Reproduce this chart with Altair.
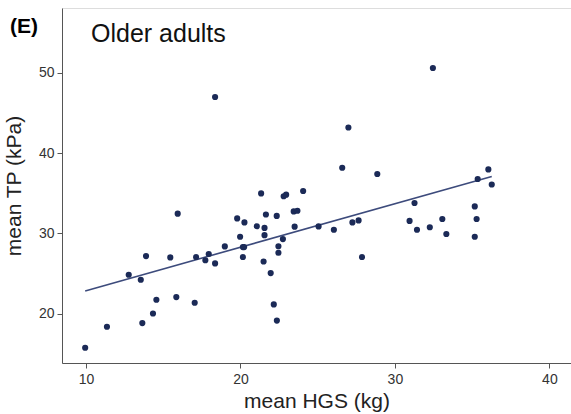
import altair as alt
import pandas as pd

# mean hand-grip strength (kg) and mean tongue pressure (kPa), older adults
hgs = [9.95, 11.36, 12.77, 13.55, 13.89, 13.65, 14.34, 14.56, 15.46, 15.94,
       15.85, 17.04, 17.13, 17.73, 17.95, 18.36, 18.99, 19.79, 19.98, 20.16,
       20.24, 20.26, 20.16, 21.06, 21.56, 21.65, 21.56, 21.50, 21.96, 22.35,
       22.16, 22.36, 22.46, 22.46, 22.75, 21.34, 22.80, 22.96, 24.06, 23.45,
       23.69, 23.51, 25.06, 26.05, 27.25, 27.65, 27.87, 26.59, 28.86, 26.99,
       18.36, 32.46, 30.95, 31.27, 31.43, 32.26, 33.07, 33.33, 35.17, 35.29,
       35.17, 35.36, 36.05, 36.27]
tp = [15.75, 18.37, 24.85, 24.23, 27.18, 18.83, 20.02, 21.73, 27.01, 32.46,
      22.07, 21.36, 27.06, 26.66, 27.44, 26.26, 28.38, 31.87, 29.59, 28.30,
      28.30, 31.37, 27.06, 30.90, 30.69, 32.36, 29.78, 26.50, 25.06, 32.18,
      21.15, 19.14, 28.40, 27.59, 29.30, 34.99, 34.64, 34.83, 35.29, 32.74,
      32.83, 30.84, 30.87, 30.46, 31.37, 31.62, 27.06, 38.19, 37.41, 43.20,
      47.01, 50.62, 31.56, 33.79, 30.46, 30.77, 31.80, 29.93, 33.37, 31.80,
      29.59, 36.78, 37.98, 36.10]

x_ticks = [10, 20, 30, 40]
y_ticks = [20, 30, 40, 50]

df = pd.DataFrame({"hgs": hgs, "tp": tp})

FONT = "Liberation Sans"
NAVY = "#1b2a57"

x_enc = alt.X("hgs:Q", title="mean HGS (kg)",
              scale=alt.Scale(domain=[8.45, 41.4], nice=False, zero=False),
              axis=alt.Axis(values=x_ticks, grid=False, tickSize=5,
                            domainColor="#555555", tickColor="#555555",
                            labelColor="#333333", labelFontSize=14,
                            labelFont=FONT, titleFont=FONT, titleFontSize=21,
                            titleFontWeight="normal", titleColor="#222222",
                            titlePadding=4, labelPadding=4))
y_enc = alt.Y("tp:Q", title="mean TP (kPa)",
              scale=alt.Scale(domain=[13.85, 58.1], nice=False, zero=False),
              axis=alt.Axis(values=y_ticks, grid=False, tickSize=5,
                            domainColor="#555555", tickColor="#555555",
                            labelColor="#333333", labelFontSize=14,
                            labelFont=FONT, titleFont=FONT, titleFontSize=21,
                            titleFontWeight="normal", titleColor="#222222",
                            titlePadding=14, labelPadding=3))

base = alt.Chart(df)

points = base.mark_circle(size=38, color=NAVY, opacity=1).encode(x=x_enc, y=y_enc)

fit = base.transform_regression("hgs", "tp").mark_line(
    color="#3d4b7c", strokeWidth=1.6).encode(x="hgs:Q", y="tp:Q")

panel = alt.Chart(pd.DataFrame({"t": ["(E)"]})).mark_text(
    font=FONT, fontSize=21, fontWeight="bold", align="left", baseline="middle",
    color="#000000").encode(x=alt.value(-52), y=alt.value(19), text="t:N")

subtitle = alt.Chart(pd.DataFrame({"t": ["Older adults"]})).mark_text(
    font=FONT, fontSize=25, align="left", baseline="middle",
    color="#111111").encode(x=alt.value(29), y=alt.value(26), text="t:N")

chart = alt.layer(fit, points, panel, subtitle).properties(
    width=509, height=355,
    autosize=alt.AutoSizeParams(type="none"),
    padding={"left": 62, "top": 8, "right": 0, "bottom": 51},
).configure_view(stroke=None).configure(background="white")

chart.save("out.html", embed_options={"renderer": "svg", "actions": False})
